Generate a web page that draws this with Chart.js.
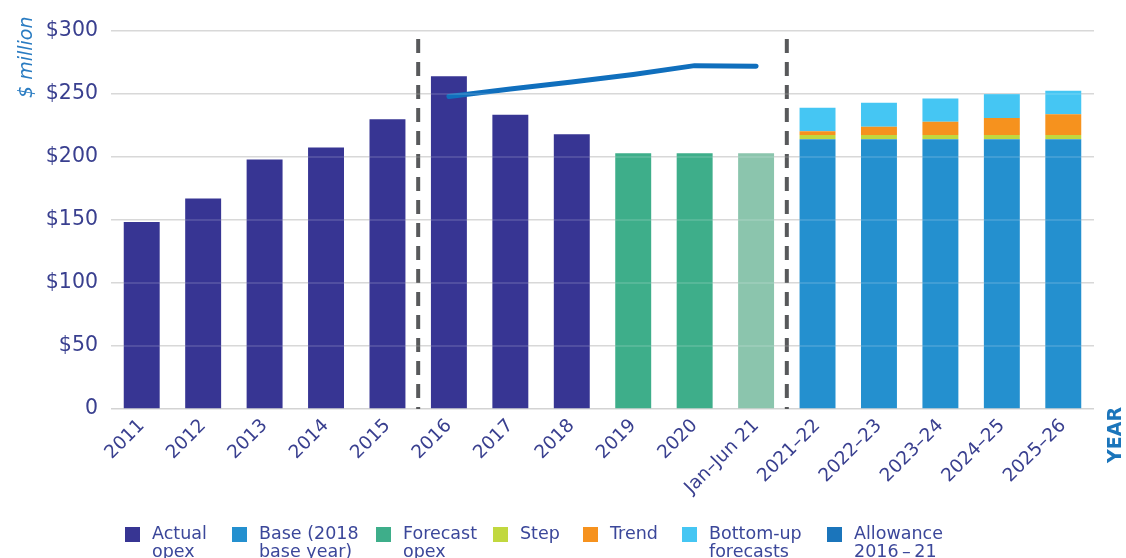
<!DOCTYPE html>
<html>
<head>
<meta charset="utf-8">
<script src="https://cdn.jsdelivr.net/npm/chart.js@4.4.0/dist/chart.umd.min.js"></script>
<style>
  html, body { margin: 0; padding: 0; background: #fff; }
  body { width: 1126px; height: 558px; overflow: hidden; position: relative; }
  #wrap { position: absolute; left: 0; top: 0; width: 1126px; height: 558px; }
  #legend { position: absolute; left: 125px; top: 524px; display: flex; font-family: 'DejaVu Sans', sans-serif; font-size: 17.5px; line-height: 18px; color: #3b479a; }
  .item { display: flex; align-items: flex-start; flex: none; white-space: nowrap; }
  .box { width: 15px; height: 15px; margin-top: 3px; margin-right: 12px; flex: none; }
</style>
</head>
<body>
<div id="wrap"><canvas id="opex-chart" width="1126" height="558"></canvas></div>
<div id="legend"></div>
<script>
// categories
const labels = ['2011', '2012', '2013', '2014', '2015', '2016', '2017', '2018', '2019', '2020',
  'Jan\u2013Jun 21', '2021\u201322', '2022\u201323', '2023\u201324', '2024\u201325', '2025\u201326'];

// series ($ million)
const actualOpex   = [148.5, 167, 198, 207.5, 230, 264, 233.5, 218, null, null, null, null, null, null, null, null];
const forecastOpex = [null, null, null, null, null, null, null, null, 203, 203, 203, null, null, null, null, null];
const baseOpex     = [null, null, null, null, null, null, null, null, null, null, null, 214, 214, 214, 214, 214];
const stepChange   = [null, null, null, null, null, null, null, null, null, null, null, 3.5, 3.5, 3.5, 3.5, 3.5];
const trendChange  = [null, null, null, null, null, null, null, null, null, null, null, 3, 6.5, 10.5, 13.5, 16.5];
const bottomUp     = [null, null, null, null, null, null, null, null, null, null, null, 18.5, 19, 18.5, 19, 18.5];
const allowance    = [null, null, null, null, null, 248, 254, 259.5, 265.5, 272.5, 272, null, null, null, null, null];

// y ticks
const yTicks = [0, 50, 100, 150, 200, 250, 300];

// period dividers (between categories)
const dividers = [4.5, 10.5];

const colors = {
  actual: '#373593',
  base: '#2490cf',
  forecast: '#3eae8a',
  forecastPart: '#8bc5ad',
  step: '#c1d83f',
  trend: '#f6921e',
  bottomUp: '#45c6f3',
  allowance: '#106fbd',
  allowanceKey: '#1b75bb'
};

const legendNames = [['Actual', 'opex'], ['Base (2018', 'base year)'], ['Forecast', 'opex'], ['Step'], ['Trend'], ['Bottom-up', 'forecasts'], ['Allowance', '2016\u2009\u2013\u200921']];
const legendColors = [colors.actual, colors.base, colors.forecast, colors.step, colors.trend, colors.bottomUp, colors.allowanceKey];
// legend slot widths (px), last one free
const legendSlots = [107, 144, 117, 90, 99, 145, null];

const tickColor = '#393f8f';
const fontFamily = "'DejaVu Sans', sans-serif";

// dashed vertical dividers
const dividerPlugin = {
  id: 'dividers',
  beforeDatasetsDraw(chart) {
    const { ctx, chartArea, scales } = chart;
    ctx.save();
    ctx.strokeStyle = '#58595b';
    ctx.lineWidth = 4;
    ctx.setLineDash([14, 9]);
    dividers.forEach(d => {
      const x = scales.x.getPixelForValue(d);
      ctx.beginPath();
      ctx.moveTo(x, chartArea.top + 8);
      ctx.lineTo(x, chartArea.bottom);
      ctx.stroke();
    });
    ctx.restore();
  }
};

// faint gridline tint over bars + axis titles
const overlayPlugin = {
  id: 'overlay',
  afterDatasetsDraw(chart) {
    const { ctx, chartArea, scales } = chart;
    ctx.save();
    ctx.strokeStyle = 'rgba(255, 255, 255, 0.18)';
    ctx.lineWidth = 1.5;
    yTicks.slice(1).forEach(v => {
      const y = scales.y.getPixelForValue(v);
      ctx.beginPath();
      ctx.moveTo(chartArea.left, y);
      ctx.lineTo(chartArea.right, y);
      ctx.stroke();
    });
    ctx.restore();
  },
  afterDraw(chart) {
    const { ctx } = chart;
    ctx.save();
    ctx.fillStyle = '#2a7cc2';
    ctx.font = "italic 19px 'DejaVu Sans', sans-serif";
    ctx.textAlign = 'left';
    ctx.textBaseline = 'alphabetic';
    ctx.translate(32, 98);
    ctx.rotate(-Math.PI / 2);
    ctx.fillText('$ million', 0, 0);
    ctx.restore();

    ctx.save();
    ctx.fillStyle = '#1b75bb';
    ctx.font = "bold 19px 'DejaVu Sans', sans-serif";
    ctx.textAlign = 'left';
    ctx.textBaseline = 'alphabetic';
    ctx.translate(1121, 463);
    ctx.rotate(-Math.PI / 2);
    ctx.fillText('YEAR', 0, 0);
    ctx.restore();
  }
};

const barCommon = {
  type: 'bar',
  stack: 'opex',
  order: 1,
  barPercentage: 0.585,
  categoryPercentage: 1.0
};

const ctx = document.getElementById('opex-chart').getContext('2d');
new Chart(ctx, {
  data: {
    labels: labels,
    datasets: [
      { ...barCommon, label: 'Actual opex', data: actualOpex, backgroundColor: colors.actual },
      {
        ...barCommon, label: 'Forecast opex', data: forecastOpex,
        backgroundColor: labels.map(l => l.startsWith('Jan') ? colors.forecastPart : colors.forecast)
      },
      { ...barCommon, label: 'Base (2018 base year)', data: baseOpex, backgroundColor: colors.base },
      { ...barCommon, label: 'Step', data: stepChange, backgroundColor: colors.step },
      { ...barCommon, label: 'Trend', data: trendChange, backgroundColor: colors.trend },
      { ...barCommon, label: 'Bottom-up forecasts', data: bottomUp, backgroundColor: colors.bottomUp },
      {
        type: 'line',
        label: 'Allowance 2016-21',
        data: allowance,
        stack: 'allowance',
        order: 0,
        borderColor: colors.allowance,
        borderWidth: 5,
        borderCapStyle: 'round',
        borderJoinStyle: 'round',
        pointRadius: 0,
        tension: 0,
        fill: false
      }
    ]
  },
  options: {
    responsive: false,
    animation: false,
    layout: {
      padding: { left: 0, right: 32, top: 31, bottom: 0 }
    },
    plugins: {
      legend: { display: false },
      tooltip: { enabled: false }
    },
    scales: {
      x: {
        stacked: true,
        grid: { display: false },
        border: { display: false },
        ticks: {
          autoSkip: false,
          maxRotation: 45,
          minRotation: 45,
          color: tickColor,
          padding: -2,
          font: { family: fontFamily, size: 18.5 }
        },
        afterFit(scale) { scale.height = 149; }
      },
      y: {
        stacked: true,
        min: 0,
        max: 300,
        grid: {
          color: '#d3d3d3',
          lineWidth: 1.5,
          drawTicks: false
        },
        border: { display: false },
        ticks: {
          stepSize: 50,
          padding: 13,
          color: tickColor,
          font: { family: fontFamily, size: 20.5 },
          callback: function(value) {
            return value === 0 ? '0' : '$' + value;
          }
        },
        afterFit(scale) { scale.width = 111; }
      }
    }
  },
  plugins: [dividerPlugin, overlayPlugin]
});

// legend
const legendEl = document.getElementById('legend');
legendNames.forEach((lines, i) => {
  const item = document.createElement('div');
  item.className = 'item';
  if (legendSlots[i]) item.style.width = legendSlots[i] + 'px';
  const box = document.createElement('span');
  box.className = 'box';
  box.style.background = legendColors[i];
  const text = document.createElement('span');
  text.innerHTML = lines.join('<br>');
  item.appendChild(box);
  item.appendChild(text);
  legendEl.appendChild(item);
});
</script>
</body>
</html>
